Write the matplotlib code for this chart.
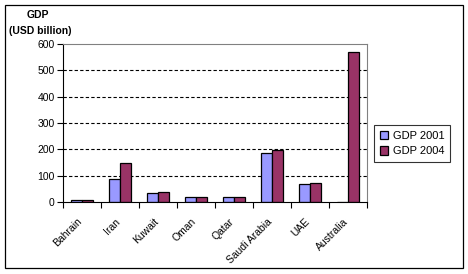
import numpy as np
import matplotlib.pyplot as plt
from matplotlib.patches import Rectangle
from matplotlib.transforms import ScaledTranslation

plt.rcParams['font.family'] = ['Liberation Sans', 'DejaVu Sans']

countries = ["Bahrain", "Iran", "Kuwait", "Oman", "Qatar", "Saudi Arabia", "UAE", "Australia"]
gdp_2001 = [8, 86, 33, 19, 18, 185, 67, 0]
gdp_2004 = [8, 147, 37, 18, 18, 196, 72, 570]

fig = plt.figure(figsize=(4.68, 2.74), dpi=100)
ax = fig.add_axes([63 / 468, 1 - 202 / 274, 304 / 468, 158 / 274])

x = np.arange(len(countries))
w = 0.29
ax.bar(x - w / 2, gdp_2001, w, color="#9999FF", edgecolor="black", linewidth=0.9, label="GDP 2001")
ax.bar(x + w / 2, gdp_2004, w, color="#993366", edgecolor="black", linewidth=0.9, label="GDP 2004")

ax.set_xlim(-0.5, len(countries) - 0.5)
ax.set_ylim(0, 600)
ax.set_yticks(range(0, 601, 100))
ax.set_xticks(x)
ax.set_xticks(np.arange(-0.5, len(countries)), minor=True)
ax.set_xticklabels(countries, rotation=45, ha="right", rotation_mode="anchor", fontsize=7.5)
ax.tick_params(axis="x", which="major", length=0, pad=6)
ax.tick_params(axis="x", which="minor", length=4, width=0.8)
ax.tick_params(axis="y", length=4, width=0.8, labelsize=7.5, pad=2)

# shift rotated labels a bit down and left, like the original
offset = ScaledTranslation(-5 / 100, -6 / 100, fig.dpi_scale_trans)
for lbl in ax.get_xticklabels():
    lbl.set_transform(lbl.get_transform() + offset)

for v in range(100, 600, 100):
    ax.axhline(v, color="black", linestyle=(0, (3, 2)), linewidth=0.8, zorder=0)

ax.spines["left"].set_color("black")
ax.spines["bottom"].set_color("black")
ax.spines["top"].set_color("#808080")
ax.spines["right"].set_color("#808080")

fig.text(38 / 468, 1 - 15 / 274, "GDP", fontsize=7.5, fontweight="bold", ha="center", va="center")
fig.text(40 / 468, 1 - 31 / 274, "(USD billion)", fontsize=7.5, fontweight="bold", ha="center", va="center")

leg = ax.legend(loc="center left", bbox_to_anchor=(374 / 468, 1 - 143.5 / 274),
                bbox_transform=fig.transFigure, fontsize=8, frameon=True, fancybox=False,
                handlelength=0.8, handleheight=0.8, handletextpad=0.4, borderpad=0.5,
                labelspacing=0.5, borderaxespad=0)
leg.get_frame().set_edgecolor("black")
leg.get_frame().set_linewidth(0.8)

fig.patches.append(Rectangle((5 / 468, 6 / 274), 458 / 468, 263 / 274, transform=fig.transFigure,
                             fill=False, edgecolor="black", linewidth=0.9))

fig.savefig("out.png", dpi=100)
